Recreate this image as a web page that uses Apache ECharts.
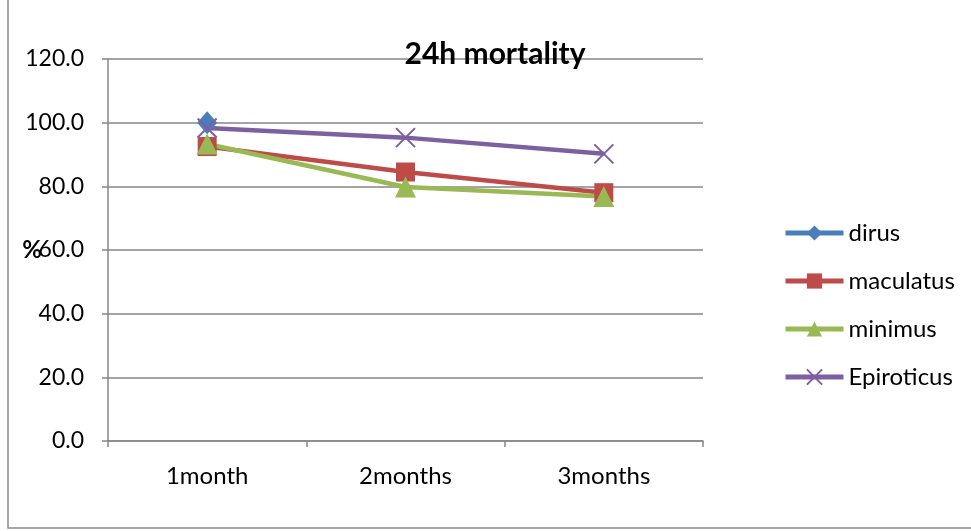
<!DOCTYPE html>
<html><head><meta charset="utf-8">
<script src="https://cdn.jsdelivr.net/npm/echarts@6/dist/echarts.min.js"></script>
<style>html,body{margin:0;padding:0;background:#fff}#c{width:971px;height:531px}</style>
</head><body><div id="c"></div>
<script>
const categories = ['1month', '2months', '3months'];
const dirus = [100.0, null, null];
const maculatus = [92.5, 84.5, 78.0];
const minimus = [93.3, 79.8, 76.8];
const epiroticus = [98.3, 95.3, 90.2];
const yTicks = [0, 20, 40, 60, 80, 100, 120];

const FONT = 'Lato, "Liberation Sans", sans-serif';
const chart = echarts.init(document.getElementById('c'));
const cross = 'path://M0,0 L10,10 M10,0 L0,10';
function mk(name, data, color, symbol, size, extra) {
  return Object.assign({
    name, type: 'line', data, symbol, symbolSize: size, showSymbol: true,
    connectNulls: false,
    lineStyle: { color, width: 4.5 },
    itemStyle: { color, borderColor: color, borderWidth: 0 },
    emphasis: { disabled: true },
    animation: false
  }, extra || {});
}
chart.setOption({
  animation: false,
  title: { text: '24h mortality', left: 490, textAlign: 'center', top: 34,
    textStyle: { fontFamily: FONT, fontSize: 30, fontWeight: 'bold', color: '#000' } },
  graphic: [{ type: 'rect', shape: { x: 8, y: -2, width: 980, height: 530 },
    style: { fill: 'none', stroke: '#8c8c8c', lineWidth: 1.5 }, silent: true, z: -1 }],
  grid: { left: 108, right: 268, top: 59, bottom: 90, containLabel: false, outerBoundsMode: 'none' },
  legend: {
    orient: 'vertical', left: 778, top: 216, itemGap: 24, itemWidth: 58, itemHeight: 19,
    textStyle: { fontFamily: FONT, fontSize: 24, color: '#000', padding: [0, 0, 0, 0] },
    lineStyle: { width: 5 },
    data: ['dirus', 'maculatus', 'minimus', 'Epiroticus']
  },
  xAxis: {
    type: 'category', data: categories, boundaryGap: true,
    axisLine: { lineStyle: { color: '#868686', width: 1.5 } },
    axisTick: { show: true, length: 6, lineStyle: { color: '#868686', width: 1.5 } },
    axisLabel: { fontFamily: FONT, fontSize: 24, color: '#000', margin: 23 },
    splitLine: { show: false }
  },
  yAxis: {
    type: 'value', min: 0, max: 120, interval: 20,
    name: '%', nameLocation: 'middle', nameGap: 66, nameRotate: 0, nameMoveOverlap: false,
    nameTextStyle: { fontFamily: FONT, fontSize: 24, fontWeight: 'bold', color: '#000' },
    axisLine: { show: true, lineStyle: { color: '#868686', width: 1.5 } },
    axisTick: { show: true, length: 6, lineStyle: { color: '#868686', width: 1.5 } },
    axisLabel: { fontFamily: FONT, fontSize: 23, color: '#000', margin: 24,
      formatter: v => yTicks.includes(v) ? v.toFixed(1) : '' },
    splitLine: { show: true, lineStyle: { color: '#868686', width: 1.5 } }
  },
  series: [
    mk('dirus', dirus, '#4A7EBB', 'diamond', [20, 23]),
    mk('maculatus', maculatus, '#BE4B48', 'rect', 19),
    mk('minimus', minimus, '#98B954', 'triangle', 21),
    mk('Epiroticus', epiroticus, '#7D60A0', cross, 19,
      { itemStyle: { color: 'none', borderColor: '#7D60A0', borderWidth: 2 } })
  ]
});
</script></body></html>
